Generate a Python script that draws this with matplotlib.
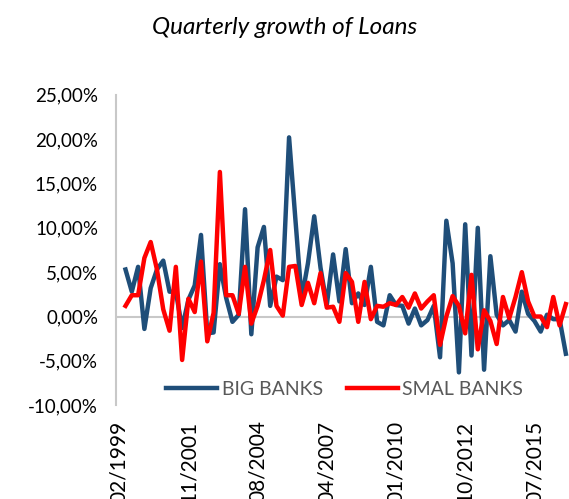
import numpy as np
import matplotlib.pyplot as plt

# quarterly growth (%), first category has no value
big_banks = [5.3, 2.8, 5.6, -1.4, 3.2, 5.3, 6.3, 2.8, 2.8, -1.3,
             1.9, 3.5, 9.2, -1.9, -1.8, 5.9, 2.1, -0.6, 0.2, 12.1,
             -2.0, 7.8, 10.1, 1.2, 4.5, 4.1, 20.2, 11.0, 2.0, 6.0,
             11.3, 5.5, 1.3, 7.0, 1.7, 7.6, 1.5, 2.6, 1.3, 5.6,
             -0.6, -1.0, 2.4, 1.3, 1.2, -0.8, 0.9, -1.0, -0.4, 1.2,
             -4.6, 10.8, 6.0, -6.3, 10.4, -4.4, 10.0, -6.0, 6.8, 0.2,
             -1.0, -0.4, -1.7, 2.8, 0.3, -0.5, -1.7, 0.2, -0.3, -0.3,
             -4.2]
small_banks = [1.2, 2.4, 2.4, 6.6, 8.4, 5.3, 0.8, -1.6, 5.6, -4.9,
               2.0, 0.5, 6.2, -2.8, 0.4, 16.3, 2.4, 2.4, 0.3, 5.6,
               -0.8, 1.2, 4.1, 7.5, 1.2, 0.1, 5.6, 5.7, 1.3, 3.8,
               1.5, 4.9, 1.0, 1.1, -0.6, 4.9, 3.9, -0.6, 3.9, -0.3,
               1.2, 1.1, 1.5, 1.3, 2.2, 1.0, 2.6, 0.9, 1.7, 2.4,
               -3.2, 0.0, 2.3, 1.2, -1.9, 4.7, -3.7, 0.7, -0.5, -3.1,
               2.2, -0.2, 2.2, 5.0, 1.7, 0.0, 0.0, -1.2, 2.2, -1.0,
               1.4]
tick_labels = ["02/1999", "11/2001", "08/2004", "04/2007",
               "01/2010", "10/2012", "07/2015"]
n_categories = 72
label_step = 11

plt.rcParams['font.family'] = ['Lato', 'DejaVu Sans']

fig = plt.figure(figsize=(5.69, 4.99), dpi=100)
ax = fig.add_axes([0.204, 0.188, 0.796, 0.622])

x = np.arange(1, len(big_banks) + 1)
ax.plot(x, big_banks, color='#1F4E79', lw=3.2, label='BIG BANKS',
        solid_joinstyle='round')
ax.plot(x, small_banks, color='#FF0000', lw=3.2, label='SMAL BANKS',
        solid_joinstyle='round')

ax.set_xlim(-0.5, n_categories - 0.5)
ax.set_ylim(-10, 25)
ax.set_yticks(np.arange(-10, 26, 5))
ax.set_yticklabels([f"{v:.2f}%".replace('.', ',') for v in np.arange(-10, 26, 5)])
ax.set_xticks(np.arange(0, n_categories, label_step)[:len(tick_labels)])
ax.set_xticklabels(tick_labels, rotation=90)

ax.axhline(0, color='#C8C8C8', lw=1.5, zorder=0)
for s in ['top', 'right', 'bottom']:
    ax.spines[s].set_visible(False)
ax.spines['left'].set_color('#C8C8C8')
ax.spines['left'].set_linewidth(1.5)
ax.tick_params(axis='y', length=0, pad=13, labelsize=13.5, labelcolor='black')
ax.tick_params(axis='x', length=0, pad=11, labelsize=15, labelcolor='black')

ax.legend(loc='center', bbox_to_anchor=(0.505, 0.052), ncol=2, frameon=False,
          fontsize=14, labelcolor='#595959', handlelength=2.6,
          handletextpad=0.25, columnspacing=1.25)

fig.text(0.5, 0.945, "Quarterly growth of Loans", ha='center', va='center',
         fontsize=17.5, style='italic')

fig.savefig("out.png", dpi=100)
